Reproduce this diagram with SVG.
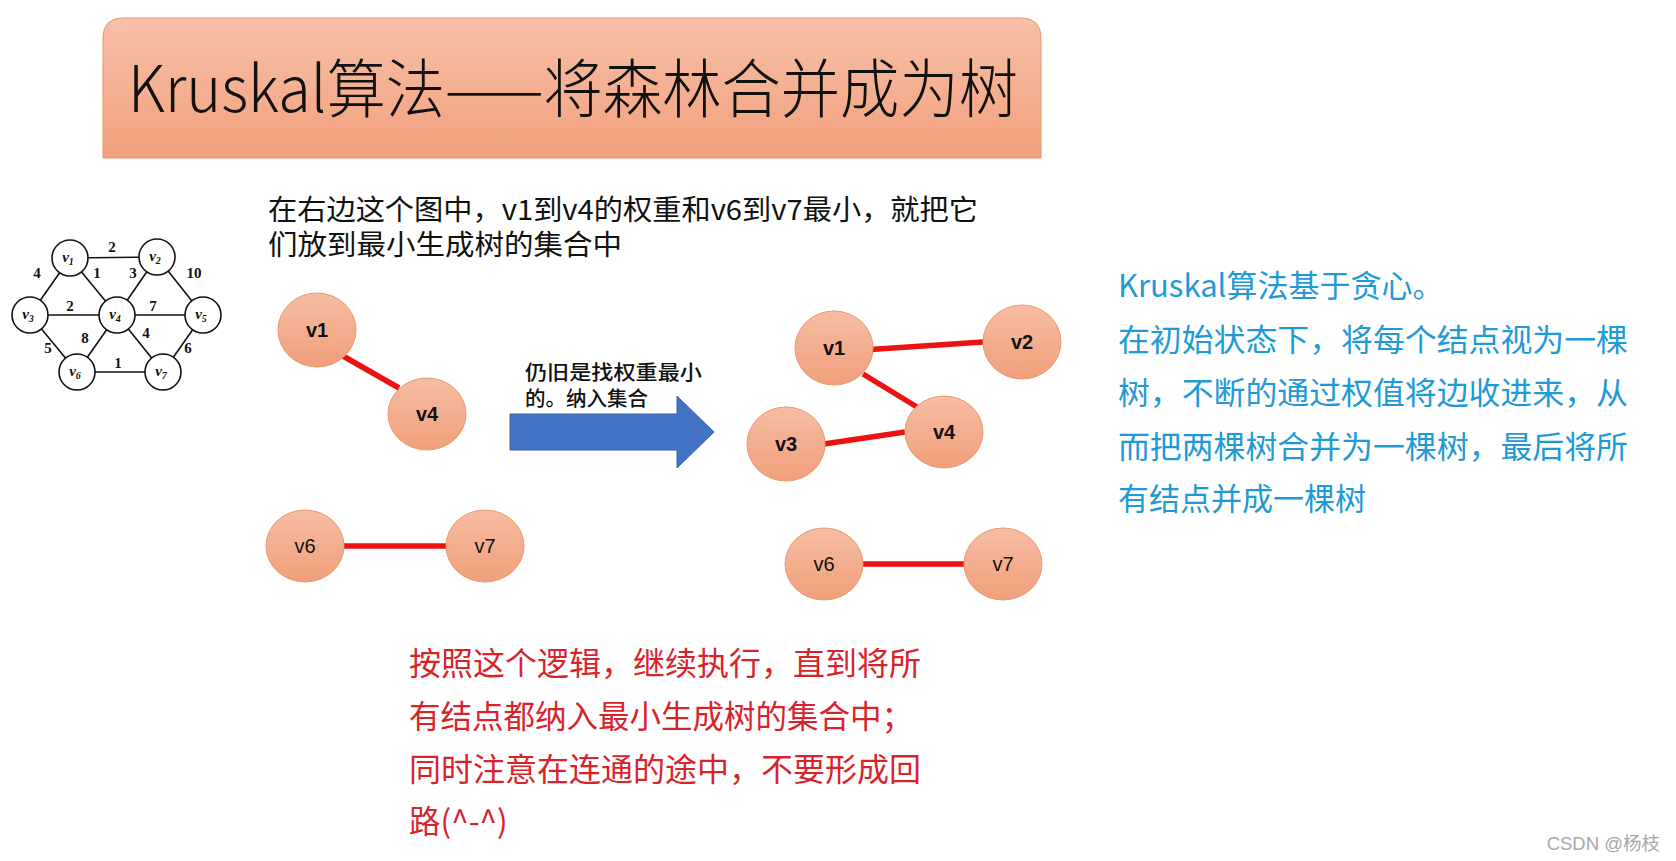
<svg xmlns="http://www.w3.org/2000/svg" width="1676" height="861" viewBox="0 0 1676 861">
<defs>
<linearGradient id="gTitle" x1="0" y1="0" x2="0" y2="1">
<stop offset="0" stop-color="#f7c0a8"/>
<stop offset="1" stop-color="#f2a07c"/>
</linearGradient>
<linearGradient id="gNode" x1="0" y1="0" x2="0" y2="1">
<stop offset="0" stop-color="#f6bda3"/>
<stop offset="1" stop-color="#f19f7a"/>
</linearGradient>
<style>
.cjk{font-family:"Noto Sans CJK SC","Liberation Sans",sans-serif;}
.node{fill:url(#gNode);stroke:#e89a72;stroke-width:1;}
.lbl{font-family:"Liberation Sans",Arial,sans-serif;font-size:20px;text-anchor:middle;fill:#111;}
.b{font-weight:bold;}
.red{stroke:#ee1111;stroke-width:5.5;fill:none;}
.sg line{stroke:#111;stroke-width:1.6;}
.sg circle{fill:#fff;stroke:#111;stroke-width:1.6;}
.sgn{font-family:"Liberation Serif","Times New Roman",serif;font-size:15px;font-weight:bold;font-style:italic;text-anchor:middle;fill:#111;}
.sgw{font-family:"Liberation Serif","Times New Roman",serif;font-size:15px;font-weight:bold;text-anchor:middle;fill:#111;}
.blue{fill:#1e9ad6;font-size:31px;}
.redt{fill:#d9232b;font-size:31.5px;}
</style>
</defs>
<rect width="1676" height="861" fill="#ffffff"/>

<g id="title">
<path d="M103,158 L103,38 Q103,18 123,18 L1021,18 Q1041,18 1041,38 L1041,158 Z" fill="url(#gTitle)" stroke="#e8956d" stroke-width="1"/>
<text class="cjk" x="128" y="112" font-size="64" font-weight="300" fill="#111" textLength="890" lengthAdjust="spacingAndGlyphs">Kruskal算法——将森林合并成为树</text>
</g>

<g id="small-graph" class="sg">
<line x1="70" y1="258" x2="157" y2="257"/>
<line x1="70" y1="258" x2="30" y2="315"/>
<line x1="70" y1="258" x2="117" y2="315"/>
<line x1="157" y1="257" x2="117" y2="315"/>
<line x1="157" y1="257" x2="203" y2="315"/>
<line x1="30" y1="315" x2="203" y2="315"/>
<line x1="30" y1="315" x2="77" y2="372"/>
<line x1="117" y1="315" x2="77" y2="372"/>
<line x1="117" y1="315" x2="163" y2="372"/>
<line x1="203" y1="315" x2="163" y2="372"/>
<line x1="77" y1="372" x2="163" y2="372"/>
<circle cx="70" cy="258" r="18"/>
<circle cx="157" cy="257" r="18"/>
<circle cx="30" cy="315" r="18"/>
<circle cx="117" cy="315" r="18"/>
<circle cx="203" cy="315" r="18"/>
<circle cx="77" cy="372" r="18"/>
<circle cx="163" cy="372" r="18"/>
<text class="sgn" x="68" y="262">v<tspan font-size="10" dy="3">1</tspan></text>
<text class="sgn" x="155" y="261">v<tspan font-size="10" dy="3">2</tspan></text>
<text class="sgn" x="28" y="319">v<tspan font-size="10" dy="3">3</tspan></text>
<text class="sgn" x="115" y="319">v<tspan font-size="10" dy="3">4</tspan></text>
<text class="sgn" x="201" y="319">v<tspan font-size="10" dy="3">5</tspan></text>
<text class="sgn" x="75" y="376">v<tspan font-size="10" dy="3">6</tspan></text>
<text class="sgn" x="161" y="376">v<tspan font-size="10" dy="3">7</tspan></text>
<text class="sgw" x="112" y="252">2</text>
<text class="sgw" x="37" y="278">4</text>
<text class="sgw" x="97" y="278">1</text>
<text class="sgw" x="133" y="278">3</text>
<text class="sgw" x="194" y="278">10</text>
<text class="sgw" x="70" y="311">2</text>
<text class="sgw" x="153" y="311">7</text>
<text class="sgw" x="85" y="343">8</text>
<text class="sgw" x="146" y="338">4</text>
<text class="sgw" x="48" y="353">5</text>
<text class="sgw" x="188" y="353">6</text>
<text class="sgw" x="118" y="368">1</text>
</g>

<g id="desc-top" class="cjk" fill="#111" font-size="28.5">
<text x="268" y="220" textLength="710" lengthAdjust="spacingAndGlyphs">在右边这个图中，v1到v4的权重和v6到v7最小，就把它</text>
<text x="268" y="255" textLength="354" lengthAdjust="spacingAndGlyphs">们放到最小生成树的集合中</text>
</g>

<g id="connectors">
<line class="red" x1="343" y1="356" x2="399" y2="388"/>
<line class="red" x1="344" y1="546" x2="457" y2="546"/>
<line class="red" x1="863" y1="350" x2="983" y2="342"/>
<line class="red" x1="863" y1="374" x2="917" y2="407"/>
<line class="red" x1="824" y1="444" x2="905" y2="432"/>
<line class="red" x1="863" y1="564" x2="975" y2="564"/>
</g>

<g id="L-v1"><ellipse class="node" cx="317" cy="330" rx="39" ry="37"/><text class="lbl b" x="317" y="337">v1</text></g>
<g id="L-v4"><ellipse class="node" cx="427" cy="414" rx="39" ry="36"/><text class="lbl b" x="427" y="421">v4</text></g>
<g id="L-v6"><ellipse class="node" cx="305" cy="546" rx="39" ry="36"/><text class="lbl" x="305" y="553">v6</text></g>
<g id="L-v7"><ellipse class="node" cx="485" cy="546" rx="39" ry="36"/><text class="lbl" x="485" y="553">v7</text></g>

<g id="arrow">
<path d="M510,414 L677,414 L677,396 L714,432 L677,468 L677,450 L510,450 Z" fill="#4472c4" stroke="#3a63ad" stroke-width="1"/>
<text class="cjk" x="525" y="380" font-size="20.5" font-weight="500" fill="#111" textLength="177" lengthAdjust="spacingAndGlyphs">仍旧是找权重最小</text>
<text class="cjk" x="525" y="406" font-size="20.5" font-weight="500" fill="#111">的。纳入集合</text>
</g>

<g id="R-v1"><ellipse class="node" cx="834" cy="348" rx="39" ry="37"/><text class="lbl b" x="834" y="355">v1</text></g>
<g id="R-v2"><ellipse class="node" cx="1022" cy="342" rx="39" ry="37"/><text class="lbl b" x="1022" y="349">v2</text></g>
<g id="R-v3"><ellipse class="node" cx="786" cy="444" rx="39" ry="37"/><text class="lbl b" x="786" y="451">v3</text></g>
<g id="R-v4"><ellipse class="node" cx="944" cy="432" rx="39" ry="36"/><text class="lbl b" x="944" y="439">v4</text></g>
<g id="R-v6"><ellipse class="node" cx="824" cy="564" rx="39" ry="36"/><text class="lbl" x="824" y="571">v6</text></g>
<g id="R-v7"><ellipse class="node" cx="1003" cy="564" rx="39" ry="36"/><text class="lbl" x="1003" y="571">v7</text></g>

<g id="desc-right" class="cjk blue">
<text x="1118" y="297">Kruskal算法基于贪心。</text>
<text x="1118" y="351" textLength="510" lengthAdjust="spacingAndGlyphs">在初始状态下，将每个结点视为一棵</text>
<text x="1118" y="404" textLength="510" lengthAdjust="spacingAndGlyphs">树，不断的通过权值将边收进来，从</text>
<text x="1118" y="458" textLength="510" lengthAdjust="spacingAndGlyphs">而把两棵树合并为一棵树，最后将所</text>
<text x="1118" y="510">有结点并成一棵树</text>
</g>

<g id="desc-bottom" class="cjk redt">
<text x="409" y="675" textLength="512" lengthAdjust="spacingAndGlyphs">按照这个逻辑，继续执行，直到将所</text>
<text x="409" y="728">有结点都纳入最小生成树的集合中；</text>
<text x="409" y="781" textLength="512" lengthAdjust="spacingAndGlyphs">同时注意在连通的途中，不要形成回</text>
<text x="409" y="833">路(^-^)</text>
</g>

<text x="1660" y="850" text-anchor="end" font-family="Liberation Sans,Noto Sans CJK SC,sans-serif" font-size="18.5" fill="#a8a8a8">CSDN @杨枝</text>
</svg>
